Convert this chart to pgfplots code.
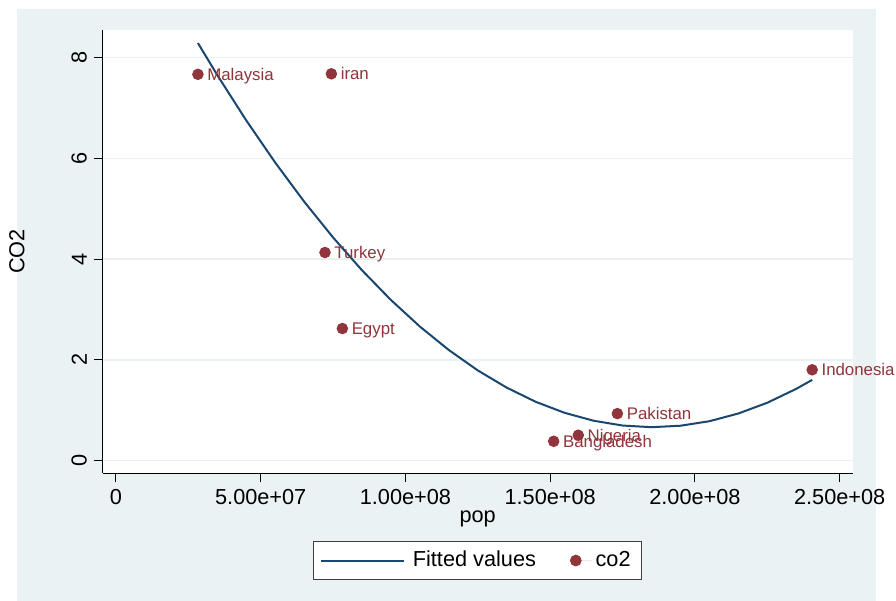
\documentclass[border=0pt]{standalone}
\usepackage{fontspec}
\setmainfont{Liberation Sans}
\usepackage{pgfplots}
\usepackage{pgfplotstable}
\pgfplotsset{compat=1.18}
\definecolor{navy}{RGB}{26,71,111}
\definecolor{maroon}{RGB}{144,53,59}
\definecolor{bgc}{RGB}{234,242,243}
\definecolor{gridc}{RGB}{232,240,242}

\pgfplotstableread{
pop co2 name
28300000 7.67 Malaysia
74400000 7.68 iran
72200000 4.13 Turkey
78200000 2.62 Egypt
151200000 0.38 Bangladesh
159700000 0.50 Nigeria
173200000 0.93 Pakistan
240500000 1.80 Indonesia
}\countries

\pgfplotstableread{
x y
28300000 8.291
35000000 7.654
45000000 6.754
55000000 5.917
65000000 5.141
75000000 4.428
85000000 3.776
95000000 3.186
105000000 2.658
115000000 2.192
125000000 1.787
135000000 1.445
145000000 1.164
155000000 0.945
165000000 0.788
175000000 0.693
185000000 0.660
195000000 0.689
205000000 0.779
215000000 0.932
225000000 1.146
235000000 1.422
240500000 1.600
}\fitted

\newcommand{\tfont}{\fontsize{10.9}{13}\selectfont}
\newcommand{\lfont}{\fontsize{8.45}{10}\selectfont}

\begin{document}
\begin{tikzpicture}
\useasboundingbox (-51.5bp,-64bp) rectangle (396.5bp,236.5bp);
\fill[bgc] (-43bp,-64bp) rectangle (386.5bp,232bp);
\begin{axis}[
  at={(0,0)}, anchor=south west,
  scale only axis, width=375bp, height=221.5bp,
  xmin=-4490000, xmax=254600000,
  ymin=-0.25, ymax=8.55,
  scaled x ticks=false,
  axis lines*=left,
  axis line style={black, line width=0.5bp},
  axis background/.style={fill=white},
  tick align=outside,
  major tick length=4.5bp,
  tick style={black, line width=0.5bp},
  xtick={0,50000000,100000000,150000000,200000000,250000000},
  xticklabels={0,5.00e+07,1.00e+08,1.50e+08,2.00e+08,2.50e+08},
  ytick={0,2,4,6,8},
  /pgf/number format/assume math mode=true,
  ymajorgrids,
  major grid style={gridc, line width=0.8bp},
  tick label style={font=\tfont},
  yticklabel style={rotate=90, anchor=south},
  xlabel={pop}, ylabel={CO2},
  label style={font=\tfont},
  xlabel style={at={(axis description cs:0.4996,-0.1045)}, anchor=center},
  ylabel style={at={(axis description cs:-0.1147,0.5)}, anchor=center, rotate=0},
  legend columns=2,
  legend style={at={(axis description cs:0.499,-0.1528)}, anchor=north,
    draw=black!75, line width=0.5bp, fill=white, font=\tfont,
    inner xsep=3.3bp, inner ysep=3bp,
    /tikz/every even column/.append style={column sep=15bp}},
]
\addplot[navy, line width=1bp, no markers,
  legend image code/.code={\draw[navy, line width=1bp] (0bp,0bp) -- (41.35bp,0bp);
    \path[draw=none] (0bp,0bp) -- (44bp,0bp);}]
  table[x=x, y=y] {\fitted};
\addlegendentry{Fitted values}
\addplot[only marks, mark=*, mark size=2.67bp, color=maroon, fill=maroon,
  point meta=explicit symbolic,
  nodes near coords,
  nodes near coords style={anchor=base west, font=\lfont, text=maroon, inner sep=0pt, xshift=4.5bp, yshift=-3bp},
  legend image code/.code={\fill[maroon] (0bp,0bp) circle[radius=2.67bp];
    \path[draw=none] (-2.67bp,0bp) -- (7.9bp,0bp);}]
  table[x=pop, y=co2, meta=name] {\countries};
\addlegendentry{co2}
\end{axis}
\end{tikzpicture}
\end{document}
